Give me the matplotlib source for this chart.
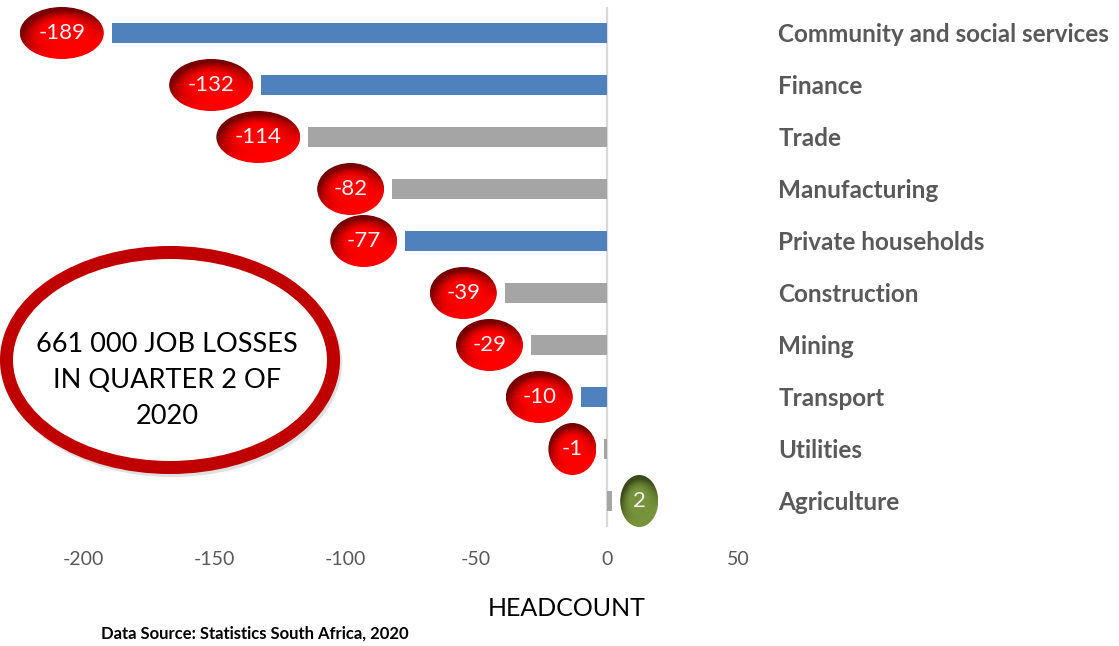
import numpy as np
import matplotlib
matplotlib.use("Agg")
import matplotlib.pyplot as plt
from matplotlib.patches import Ellipse

plt.rcParams['font.family'] = ['Lato', 'DejaVu Sans']

categories = ["Community and social services", "Finance", "Trade", "Manufacturing",
              "Private households", "Construction", "Mining", "Transport",
              "Utilities", "Agriculture"]
values = [-189, -132, -114, -82, -77, -39, -29, -10, -1, 2]
bar_colors = ["#4F81BD", "#4F81BD", "#A5A5A5", "#A5A5A5", "#4F81BD",
              "#A5A5A5", "#A5A5A5", "#4F81BD", "#A5A5A5", "#A5A5A5"]
xticks = [-200, -150, -100, -50, 0, 50]
annotation = "661 000 JOB LOSSES\nIN QUARTER 2 OF\n2020"
source = "Data Source: Statistics South Africa, 2020"
axis_title = "HEADCOUNT"

W, H, DPI = 1119, 646, 100
fig = plt.figure(figsize=(W / DPI, H / DPI), dpi=DPI)
ax_l, ax_r, ax_t, ax_b = 83, 738, 7, 527
ax = fig.add_axes([ax_l / W, 1 - ax_b / H, (ax_r - ax_l) / W, (ax_b - ax_t) / H])

xmin, xmax = -200, 50
n = len(categories)
ypos = np.arange(n)
ax.barh(ypos, values, height=0.37, color=bar_colors, zorder=2)
ax.set_xlim(xmin, xmax)
ax.set_ylim(n - 0.5, -0.5)

px_per_unit = (ax_r - ax_l) / (xmax - xmin)
px_per_cat = (ax_b - ax_t) / n


def gradient(base, dark, npx=80):
    u = np.linspace(-1, 1, npx)
    U, V = np.meshgrid(u, u)
    r = np.sqrt(U ** 2 + V ** 2)
    top = np.clip(0.45 - V * 0.65 - U * 0.3, 0, 1)
    edge = np.clip((r - 0.45) / 0.55, 0, 1) ** 1.3
    s = np.clip(edge * top * 1.4, 0, 1)[..., None]
    base = np.array(matplotlib.colors.to_rgb(base))
    dark = np.array(matplotlib.colors.to_rgb(dark))
    return base * (1 - s) + dark * s


width_by_len = {1: 38, 2: 48, 3: 67, 4: 84}
gap_px = 8
bub_h_px = 52
for i, v in enumerate(values):
    label = f"{v}"
    wpx = width_by_len.get(len(label), 84)
    wd = wpx / px_per_unit
    hd = bub_h_px / px_per_cat
    if v < 0:
        cx = v - (gap_px + wpx / 2) / px_per_unit
        img = gradient("#FF0000", "#780000")
    else:
        cx = v + (gap_px + wpx / 2) / px_per_unit
        img = gradient("#77933C", "#3A4A1A")
    cy = i
    ell = Ellipse((cx, cy), wd, hd, transform=ax.transData, facecolor="none",
                  edgecolor="none", clip_on=False)
    ax.add_patch(ell)
    im = ax.imshow(img, extent=(cx - wd / 2, cx + wd / 2, cy + hd / 2, cy - hd / 2),
                   origin="upper", aspect="auto", zorder=3, interpolation="bilinear")
    im.set_clip_box(fig.bbox)
    im.set_clip_path(ell)
    ax.text(cx, cy, label, ha="center", va="center", color="#F2F2F2",
            fontsize=16, zorder=4, clip_on=False)

ax.set_xlim(xmin, xmax)
ax.set_ylim(n - 0.5, -0.5)
ax.axvline(0, color="#D9D9D9", lw=1.6, zorder=1)
for s in ax.spines.values():
    s.set_visible(False)
ax.set_xticks(xticks)
ax.set_xticklabels([str(t) for t in xticks], color="#595959", fontsize=14)
ax.tick_params(axis="x", length=0, pad=17)
ax.yaxis.tick_right()
ax.set_yticks(ypos)
ax.set_yticklabels(categories, fontsize=17.5, fontweight="bold", color="#595959", ha="left")
ax.tick_params(axis="y", length=0, pad=29)
ax.set_facecolor("none")

# Big annotation ellipse (figure pixel coordinates)
ecx, ecy, ew, eh = 170, 360, 327, 215
shadow = Ellipse(((ecx + 2) / W, 1 - (ecy + 3) / H), ew / W, eh / H, transform=fig.transFigure,
                 facecolor="none", edgecolor="#000000", lw=9.4, alpha=0.12, zorder=5)
fig.add_artist(shadow)
ring = Ellipse((ecx / W, 1 - ecy / H), ew / W, eh / H, transform=fig.transFigure,
               facecolor="white", edgecolor="#C00000", lw=9.4, zorder=6)
fig.add_artist(ring)
fig.text(167 / W, 1 - 380 / H, annotation, ha="center", va="center", fontsize=19.5,
         color="black", linespacing=1.55, zorder=7)

fig.text(567 / W, 1 - 609 / H, axis_title, ha="center", va="center", fontsize=18, color="black")
fig.text(101 / W, 1 - 634 / H, source, ha="left", va="center", fontsize=12,
         fontweight="bold", color="black")

fig.savefig("out.png", dpi=DPI)
